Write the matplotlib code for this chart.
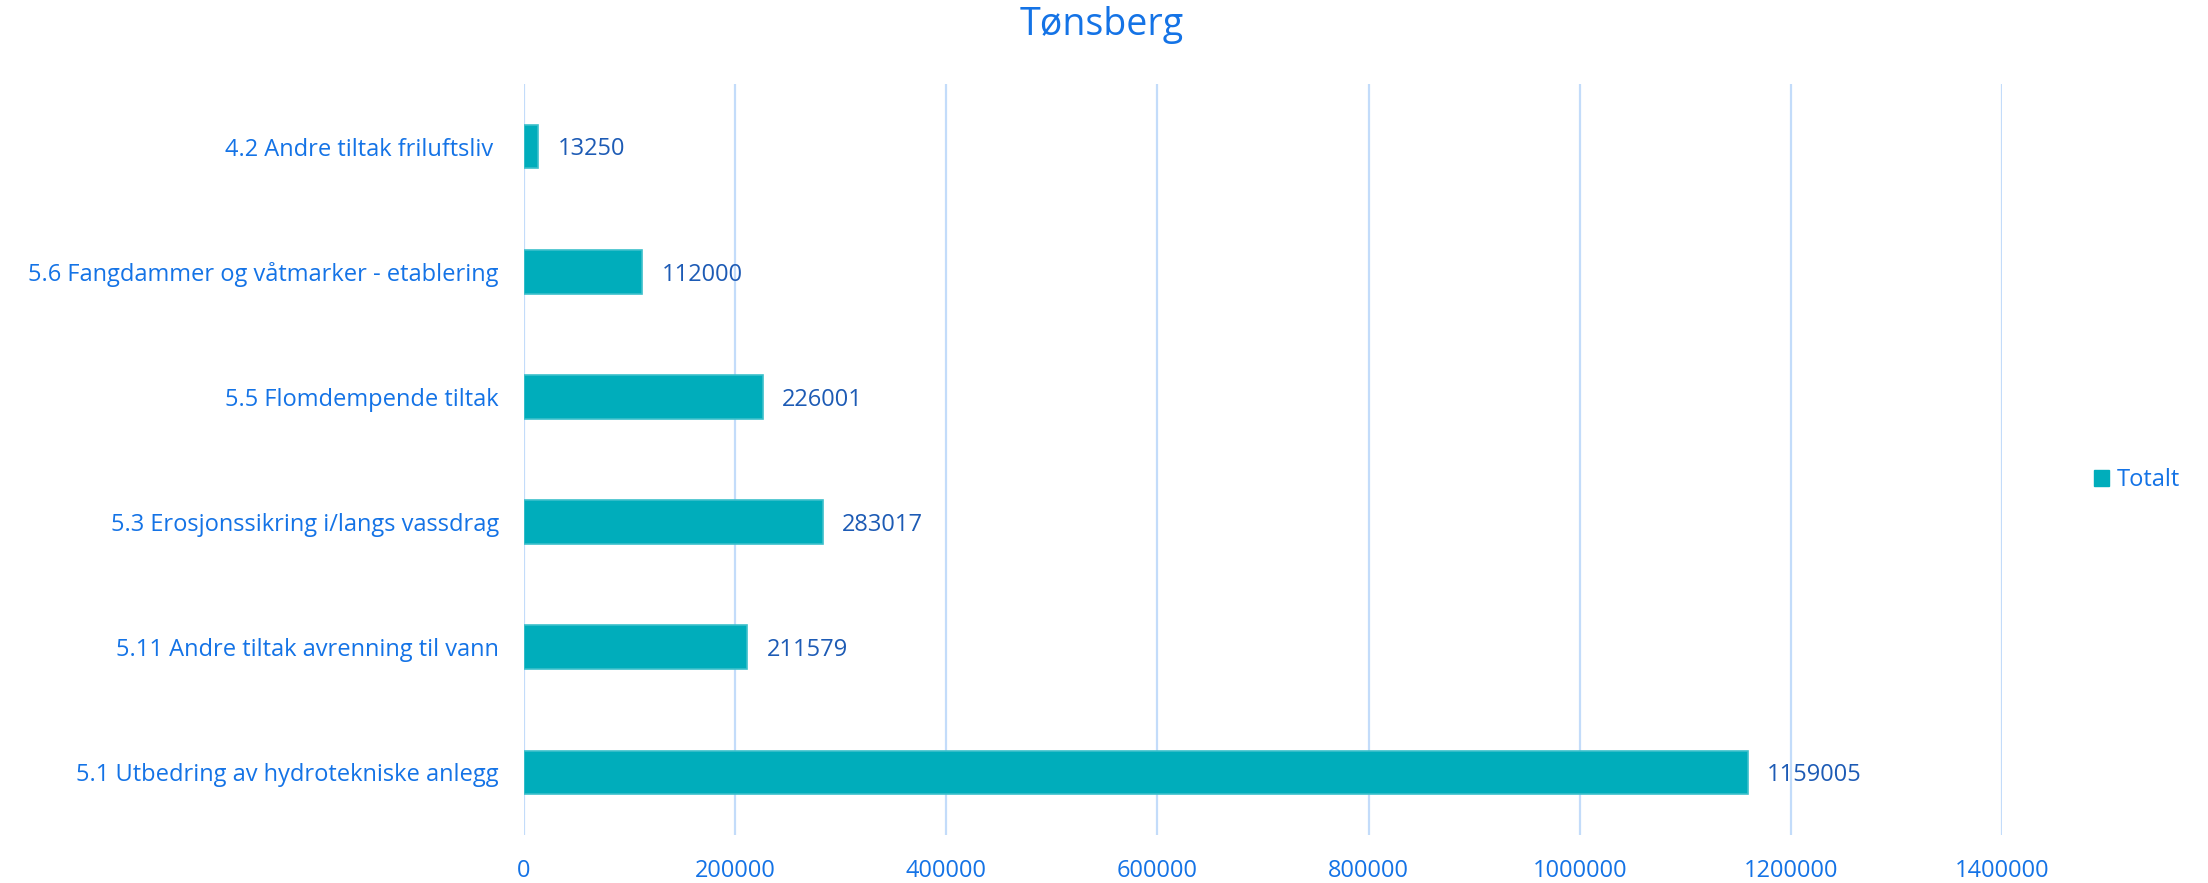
import matplotlib
matplotlib.use("Agg")
import matplotlib.pyplot as plt
from matplotlib.patches import Patch

plt.rcParams['font.family'] = ['Open Sans', 'DejaVu Sans']

title = "Tønsberg"
categories = [
    "4.2 Andre tiltak friluftsliv ",
    "5.6 Fangdammer og våtmarker - etablering",
    "5.5 Flomdempende tiltak",
    "5.3 Erosjonssikring i/langs vassdrag",
    "5.11 Andre tiltak avrenning til vann",
    "5.1 Utbedring av hydrotekniske anlegg",
]
values = [13250, 112000, 226001, 283017, 211579, 1159005]
series_name = "Totalt"
xticks = [0, 200000, 400000, 600000, 800000, 1000000, 1200000, 1400000]

BAR = "#00ADBB"
EDGE = "#3CC0CB"
TXT = "#1473E6"
LBL = "#1D5BB5"
GRID = "#C3DCFA"

W, H = 2208, 883
fig = plt.figure(figsize=(W / 100, H / 100), dpi=100)
ax = fig.add_axes([524 / W, 1 - 835 / H, (2002 - 524) / W, (835 - 84) / H])

y = list(range(len(categories)))
bars = ax.barh(y, values, height=0.35, color=BAR, edgecolor=EDGE, linewidth=1.2, zorder=3)
ax.set_ylim(len(categories) - 0.5, -0.5)
ax.set_xlim(0, 1400000)
ax.set_yticks(y)
ax.set_yticklabels(categories)
ax.set_xticks(xticks)
ax.set_xticklabels([str(t) for t in xticks])

ax.tick_params(axis='y', length=0, pad=18, labelsize=17, labelcolor=TXT)
ax.tick_params(axis='x', length=0, pad=17, labelsize=17, labelcolor=TXT)
for s in ax.spines.values():
    s.set_visible(False)
ax.grid(axis='x', color=GRID, linewidth=1.6, zorder=0)
ax.set_axisbelow(True)

anns = ax.bar_label(bars, labels=[str(v) for v in values], padding=14, fontsize=17, color=LBL)
for a in anns:
    a.xyann = (14, -2)

fig.text(1102 / W, 1 - 25 / H, title, ha='center', va='center', fontsize=27, color=TXT)

fig.legend(handles=[Patch(facecolor=BAR, edgecolor=BAR, label=series_name)],
           loc='center left', bbox_to_anchor=(2094 / W, 1 - 480 / H),
           frameon=False, fontsize=17, labelcolor=TXT,
           handlelength=0.65, handleheight=0.65, handletextpad=0.3, borderpad=0, borderaxespad=0)

fig.savefig("out.png", dpi=100)
